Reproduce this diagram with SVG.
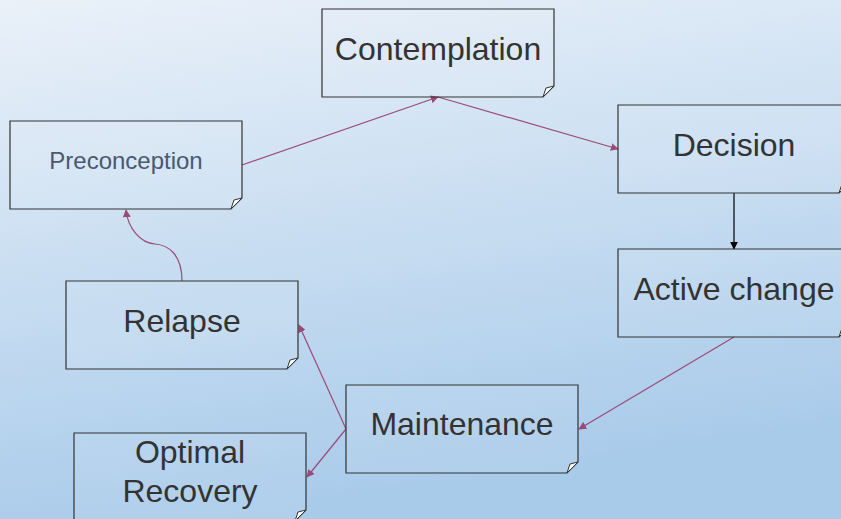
<svg xmlns="http://www.w3.org/2000/svg" width="841" height="519" viewBox="0 0 841 519">
<defs>
<linearGradient id="bg" x1="0" y1="0" x2="0.25" y2="1">
<stop offset="0" stop-color="#eaf1f9"/>
<stop offset="1" stop-color="#a9cbea"/>
</linearGradient>
<marker id="ah" viewBox="0 0 10 10" refX="9" refY="5" markerWidth="8" markerHeight="8" markerUnits="userSpaceOnUse" orient="auto">
<path d="M0,0 L10,5 L0,10 z" fill="#9b4a78"/>
</marker>
<marker id="ahb" viewBox="0 0 10 10" refX="9" refY="5" markerWidth="8" markerHeight="8" markerUnits="userSpaceOnUse" orient="auto">
<path d="M0,0 L10,5 L0,10 z" fill="#000"/>
</marker>
</defs>
<style>
.box{fill:#ffffff;fill-opacity:0.08;stroke:#333;stroke-width:1.2}
.fold{fill:#fff;stroke:#333;stroke-width:1}
.t{font-family:"Liberation Sans",Arial,sans-serif;font-size:32px;fill:#333;text-anchor:middle}
.ts{font-family:"Liberation Sans",Arial,sans-serif;font-size:24px;fill:#4a5870;text-anchor:middle}
.c{fill:none;stroke:#9b4a78;stroke-width:1.2;marker-end:url(#ah)}
</style>
<rect width="841" height="519" fill="url(#bg)"/>
<g id="connectors">
<path class="c" d="M242,165 L438,97"/>
<path class="c" d="M438,97 L618,149"/>
<path d="M734,193 L734,249" fill="none" stroke="#000" stroke-width="1.2" marker-end="url(#ahb)"/>
<path class="c" d="M734,337 L579,429"/>
<path class="c" d="M346,429 L299,325"/>
<path class="c" d="M346,429 L307,477"/>
<path class="c" d="M182,281 C182,254 168,245 155,244 C140,243 128,228 126,210"/>
</g>
<g id="preconception">
<path class="box" d="M10,121 H242 V198 L231,209 H10 Z"/>
<path class="fold" d="M242,198 L231,209 L234,200 Z"/>
<text class="ts" x="126" y="169">Preconception</text>
</g>
<g id="contemplation">
<path class="box" d="M322,9 H554 V86 L543,97 H322 Z"/>
<path class="fold" d="M554,86 L543,97 L546,88 Z"/>
<text class="t" x="438" y="60">Contemplation</text>
</g>
<g id="decision">
<path class="box" d="M618,105 H850 V182 L839,193 H618 Z"/>
<path class="fold" d="M850,182 L839,193 L842,184 Z"/>
<text class="t" x="734" y="156">Decision</text>
</g>
<g id="active-change">
<path class="box" d="M618,249 H850 V326 L839,337 H618 Z"/>
<path class="fold" d="M850,326 L839,337 L842,328 Z"/>
<text class="t" x="734" y="300">Active change</text>
</g>
<g id="relapse">
<path class="box" d="M66,281 H298 V358 L287,369 H66 Z"/>
<path class="fold" d="M298,358 L287,369 L290,360 Z"/>
<text class="t" x="182" y="332">Relapse</text>
</g>
<g id="maintenance">
<path class="box" d="M346,385 H578 V462 L567,473 H346 Z"/>
<path class="fold" d="M578,462 L567,473 L570,464 Z"/>
<text class="t" x="462" y="435">Maintenance</text>
</g>
<g id="optimal-recovery">
<path class="box" d="M74,433 H306 V510 L295,521 H74 Z"/>
<path class="fold" d="M306,510 L295,521 L298,512 Z"/>
<text class="t" x="190" y="463">Optimal</text>
<text class="t" x="190" y="502">Recovery</text>
</g>
</svg>
